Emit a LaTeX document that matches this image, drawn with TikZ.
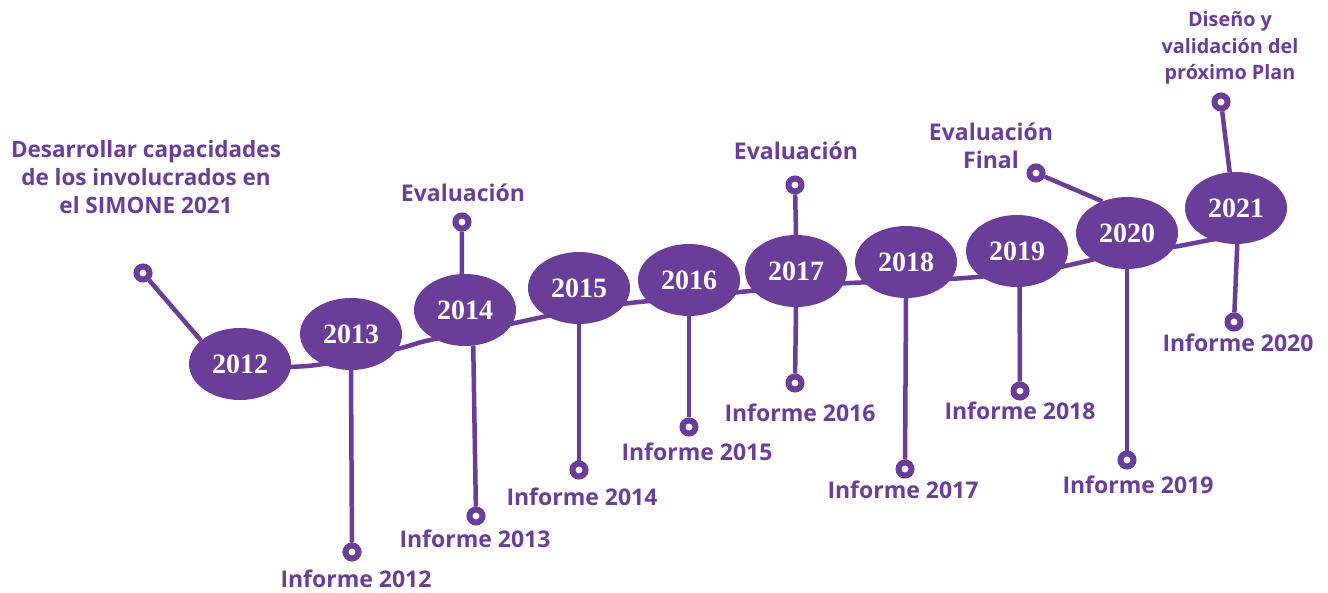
\documentclass[tikz,border=0pt]{standalone}
\usepackage{fontspec}
\setmainfont{Liberation Serif}
\newfontfamily\labfont{Open Sans}
\usetikzlibrary{shapes.geometric}
\pgfdeclarelayer{bg}
\pgfsetlayers{bg,main}
\definecolor{purp}{HTML}{6A3E98}
\tikzset{
  yr/.style={ellipse, fill=purp, text=white, minimum width=102pt, minimum height=72pt, inner sep=0pt,
    font=\fontsize{28}{28}\selectfont\bfseries},
  ring/.style={circle, draw=purp, line width=6pt, fill=white, minimum size=13pt, inner sep=0pt},
  stem/.style={draw=purp, line width=4.5pt},
  lab/.style={text=purp, font=\labfont\fontsize{23}{28}\selectfont\bfseries, align=center, inner sep=0pt},
  biglab/.style={lab, font=\labfont\fontsize{22.5}{28}\selectfont\bfseries},
  smalllab/.style={lab, font=\labfont\fontsize{19.8}{26.5}\selectfont\bfseries}
}
\begin{document}
\begin{tikzpicture}[x=1pt,y=-1pt]
\useasboundingbox (0,0) rectangle (1328,593);
% year ellipses
\node[yr] (e12) at (240,364) {2012};
\node[yr] (e13) at (351,334) {2013};
\node[yr] (e14) at (465,310) {2014};
\node[yr] (e15) at (579,288) {2015};
\node[yr] (e16) at (689,280) {2016};
\node[yr] (e17) at (796,271) {2017};
\node[yr] (e18) at (906,262) {2018};
\node[yr] (e19) at (1017,251) {2019};
\node[yr] (e20) at (1127,233) {2020};
\node[yr] (e21) at (1236,208) {2021};
% rings
\node[ring] (r12u) at (143,273) {};
\node[ring] (r13d) at (352,552) {};
\node[ring] (r14u) at (462,222) {};
\node[ring] (r14d) at (476,516) {};
\node[ring] (r15d) at (579,470) {};
\node[ring] (r16d) at (689,427) {};
\node[ring] (r17u) at (795,185) {};
\node[ring] (r17d) at (795,383) {};
\node[ring] (r18d) at (905,469) {};
\node[ring] (r19d) at (1020,391) {};
\node[ring] (r20u) at (1036,173) {};
\node[ring] (r20d) at (1127,460) {};
\node[ring] (r21u) at (1221,102) {};
\node[ring] (r21d) at (1234,322) {};
% labels
\node[biglab] (t12u) at (146,177) {Desarrollar capacidades\\de los involucrados en\\el SIMONE 2021};
\node[lab] (t13d) at (356,579) {Informe 2012};
\node[lab] (t14u) at (463,193) {Evaluación};
\node[lab] (t14d) at (475,539) {Informe 2013};
\node[lab] (t15d) at (582,497) {Informe 2014};
\node[lab] (t16d) at (697,452) {Informe 2015};
\node[lab] (t17u) at (796,151) {Evaluación};
\node[lab] (t17d) at (800,413) {Informe 2016};
\node[lab] (t18d) at (903,490) {Informe 2017};
\node[lab] (t19d) at (1020,411) {Informe 2018};
\node[lab] (t20u) at (991,146) {Evaluación\\Final};
\node[lab] (t20d) at (1138,485) {Informe 2019};
\node[smalllab] (t21u) at (1230,48) {Diseño y\\validación del\\próximo Plan};
\node[lab] (t21d) at (1238,343) {Informe 2020};
\begin{pgfonlayer}{bg}
  % backbone
  \draw[stem] plot[smooth, tension=0.5] coordinates {(240,369) (290,367) (323,364) (397,349) (430,340) (515,323) (547,316) (630,303) (690,298) (740,292) (796,287) (850,283) (906,281) (965,278) (1017,273) (1060,267) (1100,258) (1127,253) (1173,247) (1210,240) (1236,236)};
  % stems
  \draw[stem] (r12u) -- (e12.149);
  \draw[stem] (e13.south) -- (r13d);
  \draw[stem] (e14.95) -- (r14u);
  \draw[stem] (e14.-77) -- (r14d);
  \draw[stem] (e15.south) -- (r15d);
  \draw[stem] (e16.south) -- (r16d);
  \draw[stem] (e17.north) -- (r17u);
  \draw[stem] (e17.south) -- (r17d);
  \draw[stem] (e18.south) -- (r18d);
  \draw[stem] (e19.-86) -- (r19d);
  \draw[stem] (e20.128) -- (r20u);
  \draw[stem] (e20.south) -- (r20d);
  \draw[stem] (e21.100) -- (r21u);
  \draw[stem] (e21.-88) -- (r21d);
\end{pgfonlayer}
\end{tikzpicture}
\end{document}
